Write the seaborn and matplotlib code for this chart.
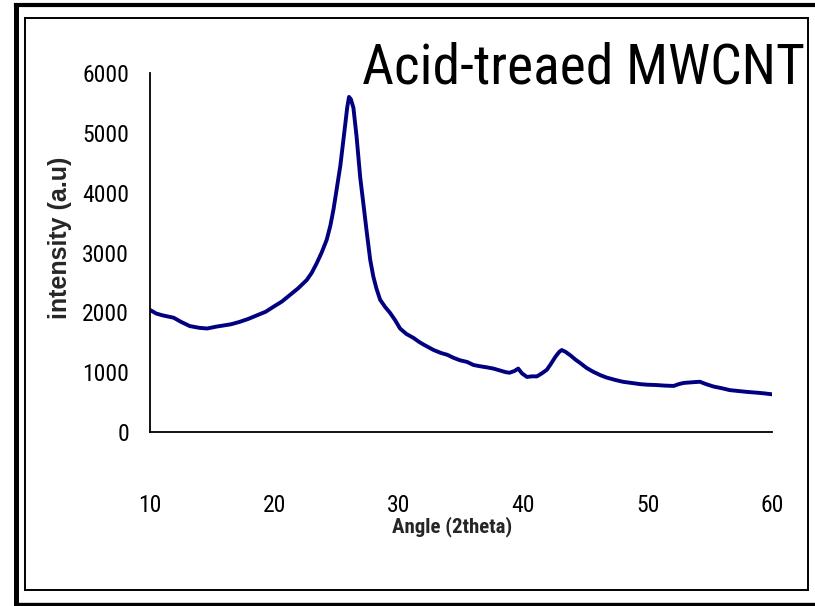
import os
import matplotlib
matplotlib.use("Agg")
import matplotlib.pyplot as plt
from matplotlib import font_manager
from matplotlib.font_manager import FontProperties
from matplotlib.lines import Line2D
import seaborn as sns
import pandas as pd

angle = [10.0, 10.5, 11.0, 11.9, 12.5, 13.2, 14.0, 14.6, 15.3, 15.9, 16.5, 17.2, 17.9, 18.6, 19.3,
         19.9, 20.6, 21.25, 21.9, 22.6, 23.0, 23.4, 23.8, 24.2, 24.5, 24.75, 25.0, 25.3, 25.5, 25.7,
         25.85, 26.0, 26.15, 26.35, 26.6, 26.9, 27.15, 27.4, 27.7, 27.95, 28.2, 28.5, 28.9, 29.3, 29.7,
         30.1, 30.6, 31.2, 31.6, 32.0, 32.8, 33.4, 33.9, 34.4, 34.9, 35.5, 36.0, 36.5, 37.1, 37.6,
         38.1, 38.6, 38.9, 39.3, 39.6, 39.9, 40.3, 40.7, 41.1, 41.5, 41.9, 42.2, 42.6, 42.9, 43.1,
         43.4, 43.8, 44.2, 44.6, 45.1, 45.6, 46.2, 46.7, 47.4, 48.0, 48.7, 49.4, 50.0, 50.7, 51.4,
         52.1, 52.5, 52.9, 53.5, 54.2, 54.7, 55.3, 56.0, 56.6, 57.3, 58.0, 58.9, 59.4, 60.0]
intensity = [2040, 1980, 1950, 1910, 1840, 1770, 1740, 1730, 1760, 1780, 1800, 1840, 1890, 1950, 2010,
             2090, 2180, 2290, 2400, 2540, 2660, 2820, 3000, 3210, 3450, 3720, 4050, 4450, 4800, 5150,
             5420, 5600, 5560, 5420, 4950, 4250, 3820, 3380, 2880, 2600, 2400, 2210, 2090, 1990, 1870,
             1730, 1640, 1570, 1510, 1460, 1370, 1320, 1290, 1240, 1200, 1170, 1120, 1100, 1080, 1060,
             1030, 1000, 990, 1020, 1060, 980, 920, 930, 930, 980, 1040, 1130, 1260, 1340, 1370,
             1340, 1280, 1210, 1150, 1070, 1010, 950, 910, 870, 840, 820, 800, 790, 785, 775,
             770, 800, 820, 830, 840, 800, 760, 730, 700, 685, 670, 655, 645, 630]

x_ticks = [10, 20, 30, 40, 50, 60]
y_ticks = [0, 1000, 2000, 3000, 4000, 5000, 6000]
title_text = "Acid-treaed MWCNT"
x_label = "Angle (2theta)"
y_label = "intensity (a.u)"

sns.set_style("white")
plt.rcParams["font.family"] = ["Liberation Sans", "DejaVu Sans"]


def find_narrow(bold):
    prefs = ["liberationsansnarrow", "arialn", "arialnarrow", "notosans-condensed",
             "robotocondensed", "dejavusanscondensed", "notosans-semicondensed",
             "opensans-condensed", "opensanscondensed"]
    files = [f.fname for f in font_manager.fontManager.ttflist]
    best = None
    best_rank = 999
    for fn in files:
        base = os.path.basename(fn).lower().replace("_", "").replace(" ", "")
        if "italic" in base or "oblique" in base:
            continue
        isbold = "bold" in base
        if isbold != bold:
            continue
        if any(k in base for k in ["semibold", "extrabold", "black", "light", "thin", "medium", "extracondensed"]) and not (bold and "semibold" not in base and "extrabold" not in base and "bold" in base):
            continue
        for r, p in enumerate(prefs):
            if base.startswith(p) and r < best_rank:
                best, best_rank = fn, r
    return best


nreg = find_narrow(False)
nbold = find_narrow(True)


def fp(path, size, weight="normal", fallback="Liberation Sans", scale=1.0):
    if path:
        return FontProperties(fname=path, size=size)
    return FontProperties(family=fallback, size=size * scale, weight=weight)


df = pd.DataFrame({"angle": angle, "intensity": intensity})

W, H = 815, 606
fig = plt.figure(figsize=(W / 100, H / 100), dpi=100)
ax = fig.add_axes([150 / W, 1 - 432 / H, (772 - 150) / W, (432 - 73) / H])

sns.lineplot(data=df, x="angle", y="intensity", ax=ax, color="#000080",
             linewidth=2.8, estimator=None, sort=False)

ax.set_xlim(10, 60)
ax.set_ylim(0, 6000)
ax.set_xticks(x_ticks)
ax.set_yticks(y_ticks)
tick_fp = fp(nreg, 17, scale=0.85)
ax.set_xticklabels([str(v) for v in x_ticks], fontproperties=tick_fp)
ax.set_yticklabels([str(v) for v in y_ticks], fontproperties=tick_fp)

for s in ["top", "right"]:
    ax.spines[s].set_visible(False)
for s in ["left", "bottom"]:
    ax.spines[s].set_color("black")
    ax.spines[s].set_linewidth(1.3)

ax.tick_params(axis="both", direction="out", length=4, width=1.2, color="black",
               labelcolor="black")
ax.tick_params(axis="x", pad=41)
ax.tick_params(axis="y", pad=11)

ax.set_xlabel(x_label, fontproperties=fp(nbold, 15, weight="bold", scale=0.82))
ax.xaxis.set_label_coords((452 - 150) / 622, (432 - 516) / 359)
ax.xaxis.label.set_va("top")

ax.set_ylabel(y_label, fontsize=18, fontweight="bold", family=["Liberation Sans", "DejaVu Sans"])
ax.yaxis.set_label_coords((60 - 150) / 622, (432 - 238) / 359)
ax.yaxis.label.set_va("center")

fig.text(805 / W, 1 - 83 / H, title_text, ha="right", va="baseline",
         fontproperties=fp(nreg, 40, scale=0.85), color="black")


def seg(x0, y0, x1, y1, lw):
    fig.add_artist(Line2D([x0 / W, x1 / W], [1 - y0 / H, 1 - y1 / H],
                          transform=fig.transFigure, color="black", linewidth=lw,
                          solid_capstyle="projecting"))


# outer frame
seg(15.5, 5, 830, 5, 3.0)
seg(15.5, 5, 15.5, 603.5, 3.6)
seg(15.5, 603.5, 830, 603.5, 2.4)
# inner frame
seg(25, 18, 808, 18, 1.4)
seg(25, 18, 25, 590, 1.4)
seg(808, 18, 808, 590, 1.4)
seg(25, 590, 808, 590, 1.4)

fig.savefig("out.png", dpi=100)
